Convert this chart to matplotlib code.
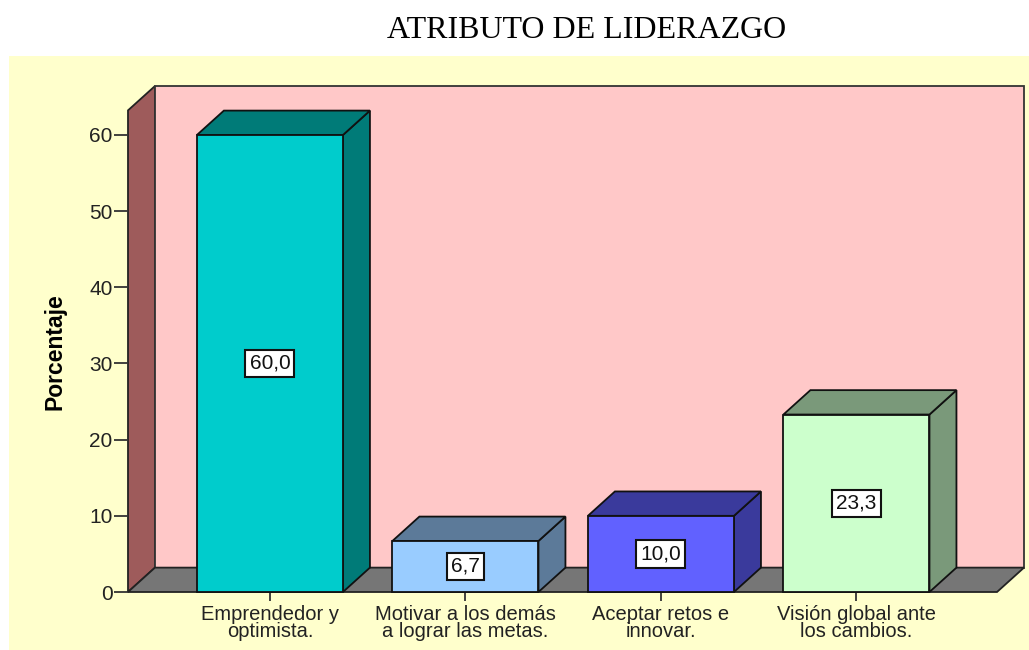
import matplotlib
matplotlib.use("Agg")
import matplotlib.pyplot as plt
from matplotlib.patches import Polygon, Rectangle

# ---- data ----
title = "ATRIBUTO DE LIDERAZGO"
categories = ["Emprendedor y\noptimista.",
              "Motivar a los demás\na lograr las metas.",
              "Aceptar retos e\ninnovar.",
              "Visión global ante\nlos cambios."]
values = [60.0, 6.7, 10.0, 23.3]
value_labels = ["60,0", "6,7", "10,0", "23,3"]
y_ticks = [0, 10, 20, 30, 40, 50, 60]
y_label = "Porcentaje"

# ---- style ----
front_colors = ["#00CCCC", "#99CCFF", "#6161FF", "#CCFFCC"]
dark_colors = ["#007B78", "#5C7A99", "#3A3A9C", "#7A997A"]
panel_color = "#FFFFCC"
wall_color = "#FFC8C8"
side_wall_color = "#9E5B5B"
floor_color = "#767676"

W, H = 1029, 650
fig = plt.figure(figsize=(W / 100, H / 100), dpi=100)
fig.patch.set_facecolor("white")
fig.patches.append(Rectangle((9 / W, 0), 1020 / W, (H - 56) / H,
                             transform=fig.transFigure, facecolor=panel_color,
                             edgecolor="none", zorder=-10))

# geometry (data units)
xL, xR = -0.726, 3.719
dx, dy = 0.138, 3.2
ytop = 66.43
bw = 0.747

ax = fig.add_axes([128 / W, (H - 592) / H, (1024 - 128) / W, (592 - 86) / H])
ax.set_zorder(5)
ax.set_xlim(xL, xR + dx)
ax.set_ylim(0, ytop)
ax.patch.set_alpha(0)
for s in ax.spines.values():
    s.set_visible(False)

lw = 1.3
# left wall
ax.add_patch(Polygon([(xL, 0), (xL + dx, dy), (xL + dx, ytop), (xL, ytop - dy)],
                     closed=True, facecolor=side_wall_color, edgecolor="#222222",
                     lw=lw, clip_on=False, zorder=1))
# back wall
ax.add_patch(Polygon([(xL + dx, dy), (xR + dx, dy), (xR + dx, ytop), (xL + dx, ytop)],
                     closed=True, facecolor=wall_color, edgecolor="#333333",
                     lw=lw, clip_on=False, zorder=1))
# floor
ax.add_patch(Polygon([(xL, 0), (xR, 0), (xR + dx, dy), (xL + dx, dy)],
                     closed=True, facecolor=floor_color, edgecolor="#222222",
                     lw=lw, clip_on=False, zorder=2))

for i, (v, fc, dc, lab) in enumerate(zip(values, front_colors, dark_colors, value_labels)):
    x0, x1 = i - bw / 2, i + bw / 2
    # side
    ax.add_patch(Polygon([(x1, 0), (x1 + dx, dy), (x1 + dx, v + dy), (x1, v)],
                         closed=True, facecolor=dc, edgecolor="#111111", lw=lw,
                         clip_on=False, zorder=3))
    # top
    ax.add_patch(Polygon([(x0, v), (x1, v), (x1 + dx, v + dy), (x0 + dx, v + dy)],
                         closed=True, facecolor=dc, edgecolor="#111111", lw=lw,
                         clip_on=False, zorder=3))
    # front
    ax.add_patch(Rectangle((x0, 0), bw, v, facecolor=fc, edgecolor="#111111",
                           lw=lw, clip_on=False, zorder=4))
    ax.text(i, v / 2, lab, ha="center", va="center", fontsize=15,
            family="Liberation Sans", color="#111111", zorder=5,
            bbox=dict(boxstyle="square,pad=0.2", facecolor="white",
                      edgecolor="#111111", lw=1.5))

ax.set_yticks(y_ticks)
ax.set_yticklabels([str(t) for t in y_ticks], family="Liberation Sans",
                   fontsize=15, color="#222222")
ax.tick_params(axis="y", direction="out", length=10, width=1.3, color="#333333", pad=1)
ax.set_xticks(range(len(categories)))
ax.set_xticklabels(categories, family="Liberation Sans", fontsize=14.5,
                   color="#222222", linespacing=0.93)
ax.tick_params(axis="x", direction="out", length=6.5, width=1.3, color="#333333", pad=2.5)

fig.text(55 / W, 1 - 352 / H, y_label, rotation=90, ha="center", va="center",
         fontsize=16.5, fontweight="bold", family="Liberation Sans", color="black")
fig.text(587 / W, 1 - 31 / H, title, ha="center", va="center",
         fontsize=23, family="Liberation Serif", color="black")

fig.savefig("out.png", dpi=100, facecolor=fig.get_facecolor())
